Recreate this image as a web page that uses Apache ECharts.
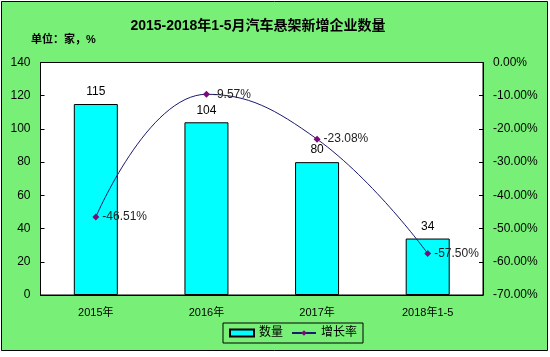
<!DOCTYPE html>
<html><head><meta charset="utf-8">
<script src="https://cdn.jsdelivr.net/npm/echarts@6/dist/echarts.min.js"></script>
<style>html,body{margin:0;padding:0;background:#fff}#c{width:550px;height:357px}</style>
</head><body><div id="c"></div>
<script>
const categories = ['2015年', '2016年', '2017年', '2018年1-5'];
const countValues = [115, 104, 80, 34];
const growthValues = [-46.51, -9.57, -23.08, -57.50];
const leftTicks = [0, 20, 40, 60, 80, 100, 120, 140];
const rightTicks = [0, -10, -20, -30, -40, -50, -60, -70];
const seriesNames = ['数量', '增长率'];

const chart = echarts.init(document.getElementById('c'));
const font = 'Arial, "Liberation Sans", "Noto Sans CJK SC", sans-serif';
chart.setOption({
  backgroundColor: '#fff',
  animation: false,
  textStyle: { fontFamily: font },
  graphic: [{
    type: 'rect', z: -10, silent: true,
    shape: { x: 1.5, y: 1.5, width: 546, height: 349 },
    style: { fill: '#78F078', stroke: '#000', lineWidth: 1 }
  }],
  title: [{
    text: '2015-2018年1-5月汽车悬架新增企业数量',
    left: 253, top: 14, textAlign: 'center',
    textStyle: { fontSize: 14, fontWeight: 'bold', color: '#000', fontFamily: font }
  }, {
    text: '单位：家，%',
    left: 26, top: 29,
    textStyle: { fontSize: 11, fontWeight: 'bold', color: '#000', fontFamily: font }
  }],
  grid: { left: 40.5, top: 62.5, width: 442.5, height: 232.5, show: true, backgroundColor: '#fff', borderColor: '#000', borderWidth: 1 },
  legend: {
    orient: 'horizontal',
    left: 223, top: 323,
    padding: [4, 6], itemGap: 8,
    borderColor: '#000', borderWidth: 1,
    itemWidth: 24, itemHeight: 7,
    textStyle: { fontSize: 12, color: '#000', fontFamily: font },
    data: [
      { name: seriesNames[0], icon: 'rect' },
      { name: seriesNames[1] }
    ]
  },
  xAxis: {
    type: 'category', data: categories,
    axisLine: { lineStyle: { color: '#000' } },
    axisTick: { inside: true, length: 4, lineStyle: { color: '#000' } },
    axisLabel: { color: '#000', fontSize: 11, margin: 12, fontFamily: font }
  },
  yAxis: [{
    type: 'value', min: leftTicks[0], max: leftTicks[leftTicks.length - 1], interval: 20,
    axisLine: { show: true, lineStyle: { color: '#000' } },
    axisTick: { show: true, inside: true, length: 4, lineStyle: { color: '#000' } },
    splitLine: { show: false },
    axisLabel: { color: '#000', fontSize: 12, margin: 10, fontFamily: font }
  }, {
    type: 'value', min: rightTicks[rightTicks.length - 1], max: rightTicks[0], interval: 10,
    position: 'right',
    axisLine: { show: true, lineStyle: { color: '#000' } },
    axisTick: { show: true, inside: true, length: 4, lineStyle: { color: '#000' } },
    splitLine: { show: false },
    axisLabel: { color: '#000', fontSize: 12, margin: 10, fontFamily: font,
      formatter: v => v.toFixed(2) + '%' }
  }],
  series: [{
    name: seriesNames[0], type: 'bar', data: countValues, barWidth: 44,
    itemStyle: { color: '#00FFFF', borderColor: '#000', borderWidth: 1 },
    label: { show: true, position: 'top', distance: 6, color: '#000', fontSize: 12, fontFamily: font }
  }, {
    name: seriesNames[1], type: 'line', yAxisIndex: 1, data: growthValues, smooth: 0.45,
    symbol: 'diamond', symbolSize: 7,
    lineStyle: { color: '#1a1a70', width: 1 },
    itemStyle: { color: '#7a0a7a' },
    label: { show: true, position: 'right', distance: 3, color: '#222', fontSize: 12, fontFamily: font,
      formatter: p => p.value.toFixed(2) + '%' }
  }]
});
</script></body></html>
